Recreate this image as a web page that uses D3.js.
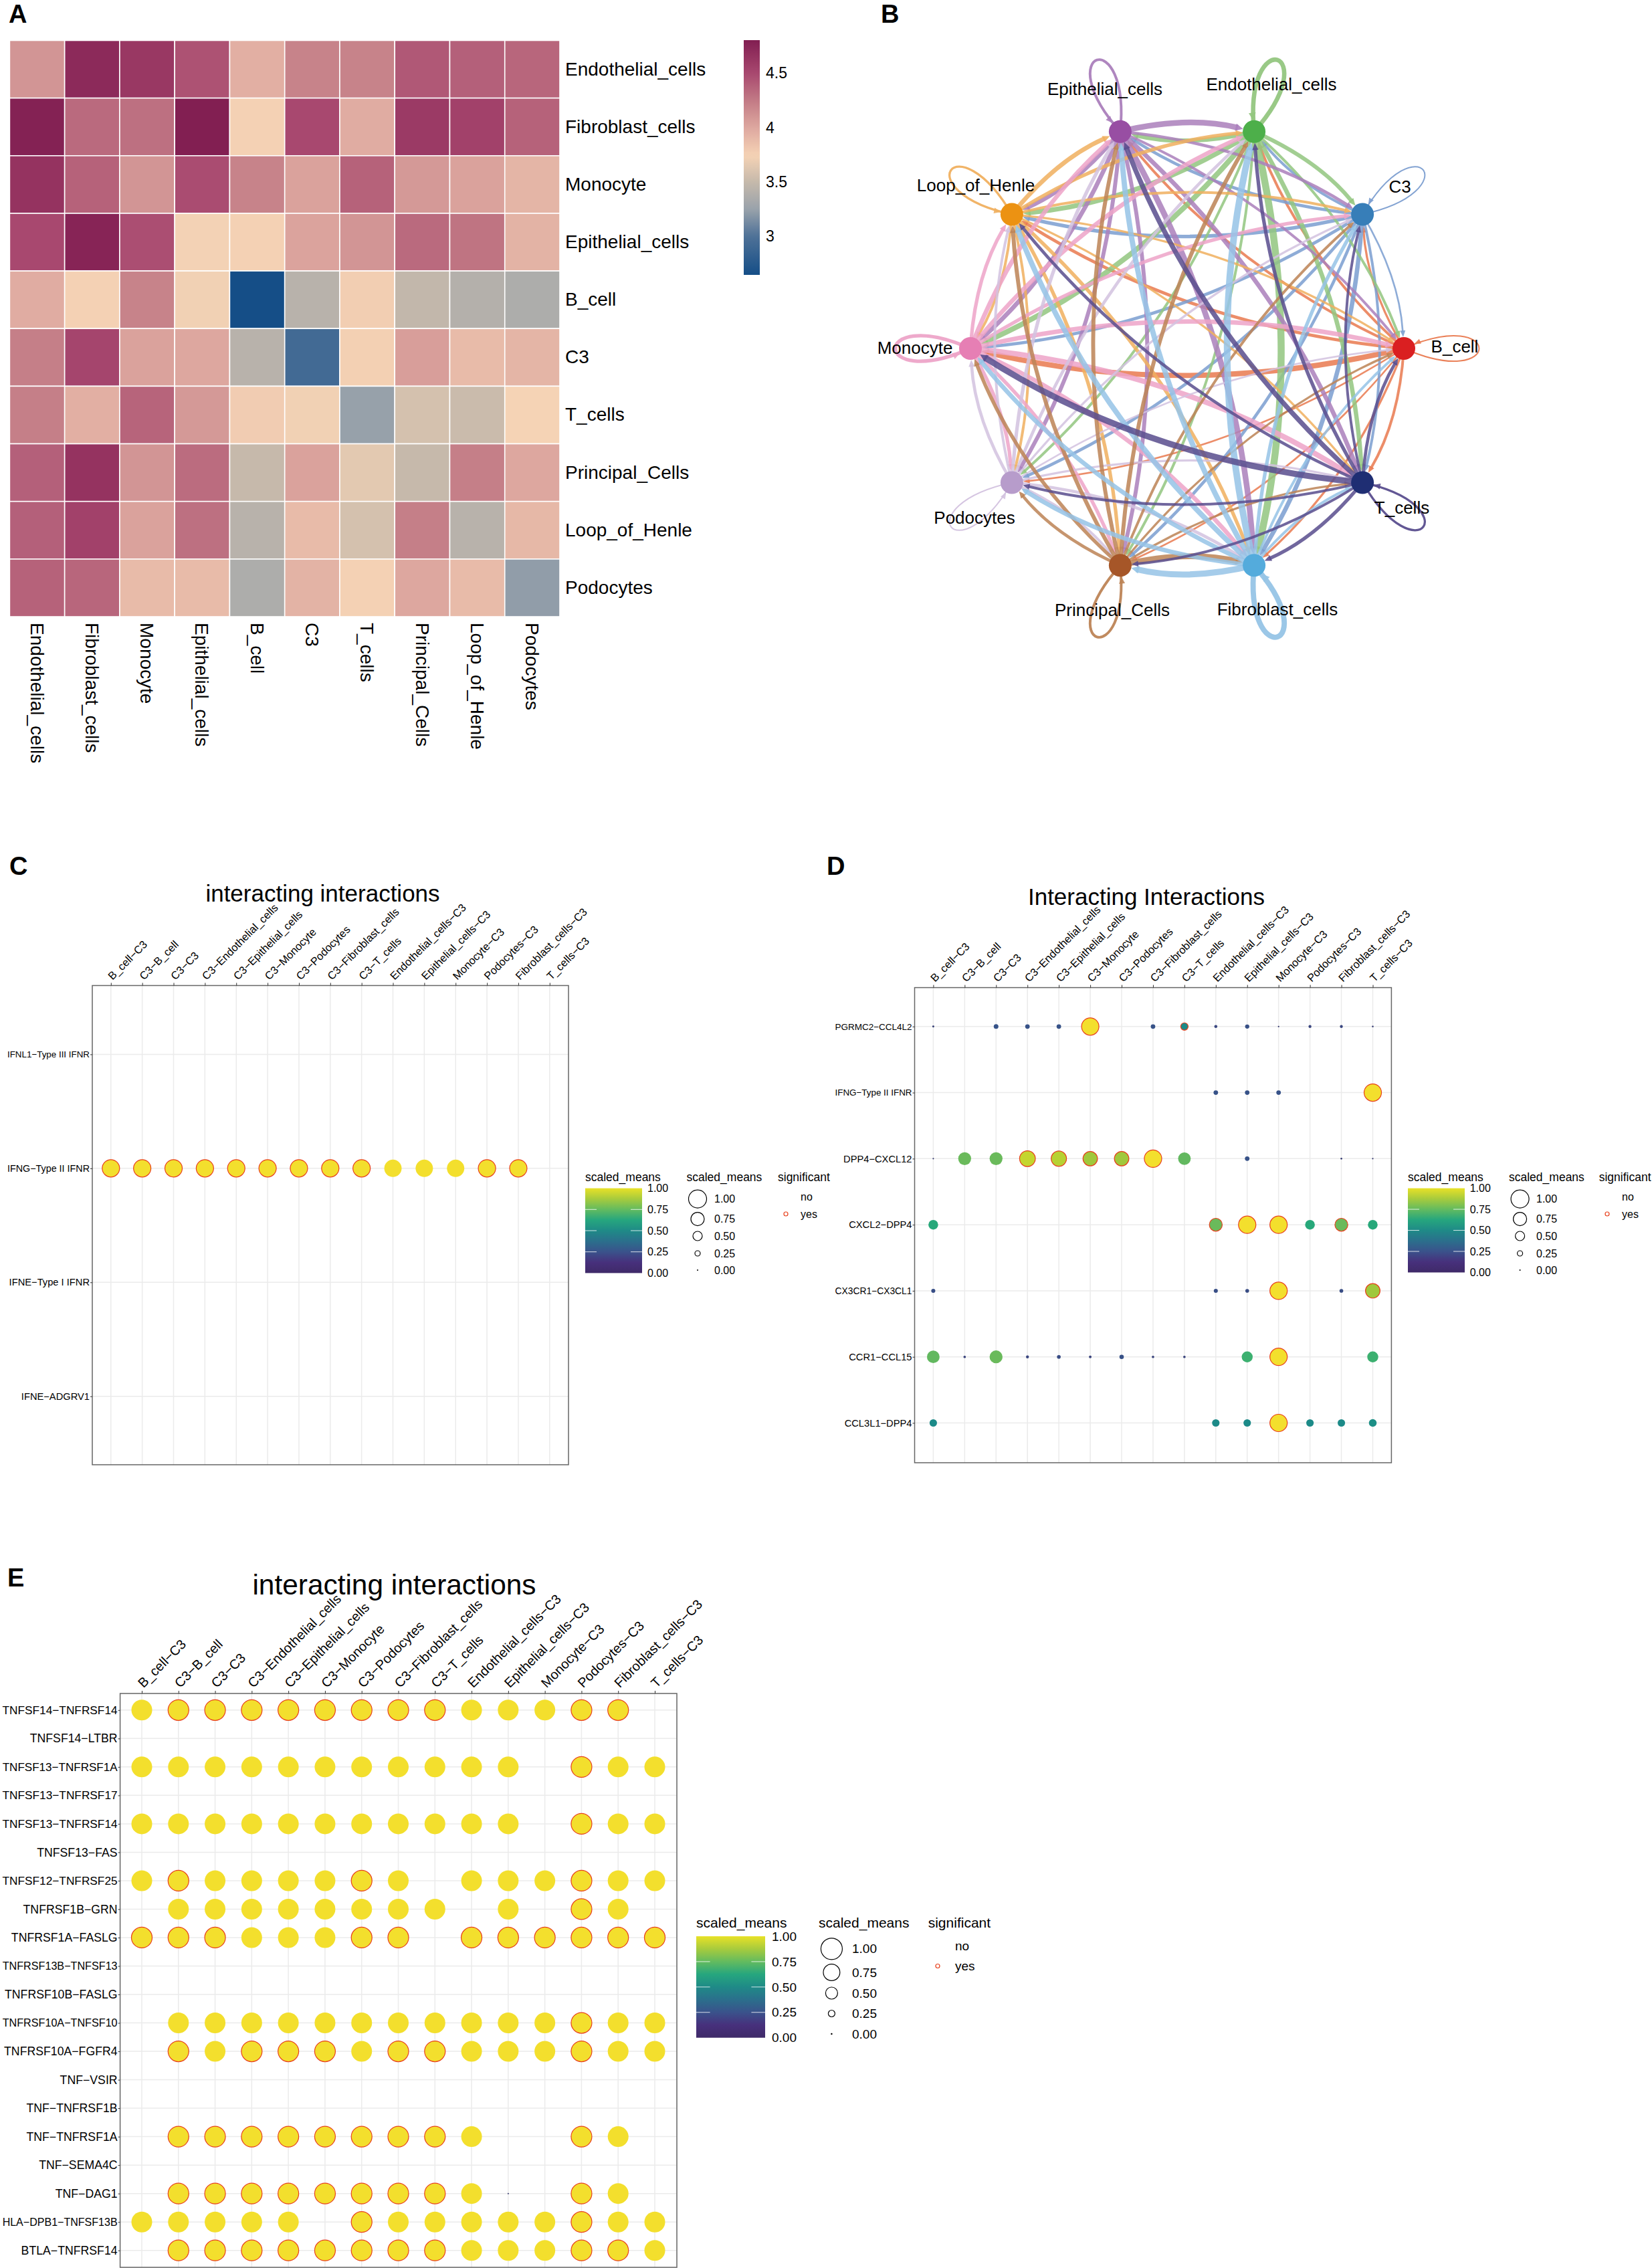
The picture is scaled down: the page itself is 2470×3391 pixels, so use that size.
<!DOCTYPE html>
<html><head><meta charset="utf-8">
<script src="https://cdn.jsdelivr.net/npm/d3@7"></script>
<style>
html,body{margin:0;padding:0;background:#fff}
svg{display:block;font-family:"Liberation Sans",Arial,sans-serif}
text{fill:#000}
</style></head><body><svg id="fig" width="2470" height="3391" viewBox="0 0 2470 3391"></svg>
<script>
// ---------- data ----------
const heatCells = ["Endothelial_cells","Fibroblast_cells","Monocyte","Epithelial_cells","B_cell","C3","T_cells","Principal_Cells","Loop_of_Henle","Podocytes"];
const heatValues = [
 [4.10,4.72,4.62,4.45,3.95,4.20,4.20,4.42,4.38,4.35],
 [4.78,4.33,4.30,4.80,3.75,4.50,3.97,4.60,4.55,4.37],
 [4.65,4.37,4.10,4.48,4.20,4.03,4.37,4.08,4.03,3.92],
 [4.50,4.76,4.47,3.73,3.75,4.02,4.10,4.33,4.28,3.93],
 [3.97,3.75,4.20,3.72,2.64,3.42,3.77,3.48,3.40,3.36],
 [4.22,4.52,4.03,4.00,3.42,2.92,3.76,4.05,3.88,3.92],
 [4.22,3.95,4.36,4.08,3.78,3.72,3.24,3.57,3.52,3.74],
 [4.38,4.65,4.10,4.32,3.50,4.03,3.65,3.50,4.22,4.00],
 [4.38,4.55,4.03,4.30,3.42,3.88,3.57,4.22,3.42,3.90],
 [4.37,4.35,3.88,3.88,3.36,3.93,3.75,4.00,3.88,3.22]];
const heatTicks = [4.5,4,3.5,3];

const netNodes = ["B_cell","C3","Endothelial_cells","Epithelial_cells","Loop_of_Henle","Monocyte","Podocytes","Principal_Cells","Fibroblast_cells","T_cells"];
const netNodeColors = ["#DA1F21","#377EB8","#4DAF4A","#984EA3","#EC9212","#E67FB4","#B79CCB","#A65628","#54ABDC","#1F2E73"];
const netEdgeColors = ["#E97A50","#7C9ED0","#93C680","#AB80BC","#F0B060","#EDA4C8","#D3C2DF","#BD8456","#96C4E6","#5A4E8E"];
// source row -> target column, line thickness; the diagonal holds the self loops
const netWeights = [
 [1.5,2.5,3,3,3.5,6,2,2,2.5,3],
 [2,1.5,3,3.5,4,3.5,3.5,3.5,5,3],
 [3,4.5,5,5,5.5,6,3,3,8,5],
 [3,3.5,6.5,3,5,5,4.5,4.5,6.5,5],
 [2.5,3,4,5,2.5,3,3,4,4,2.5],
 [5,4,5,5,4,4,4,4,5,6],
 [2,2.5,3.5,4,3,3.5,1.5,3,3.5,2.5],
 [2.5,3,4.5,4.5,4.5,4,3.5,3,6.5,2.5],
 [3,4,7.5,6,6,5,5,7,6,3],
 [3.5,3,4,5.5,3.5,7,3,3,4,2.5]];

const pairLabels = ["B_cell−C3","C3−B_cell","C3−C3","C3−Endothelial_cells","C3−Epithelial_cells","C3−Monocyte","C3−Podocytes","C3−Fibroblast_cells","C3−T_cells","Endothelial_cells−C3","Epithelial_cells−C3","Monocyte−C3","Podocytes−C3","Fibroblast_cells−C3","T_cells−C3"];
const _ = null;
const cRows = ["IFNL1−Type III IFNR","IFNG−Type II IFNR","IFNE−Type I IFNR","IFNE−ADGRV1"];
const cValues = [
 [_,_,_,_,_,_,_,_,_,_,_,_,_,_,_],
 [1,1,1,1,1,1,1,1,1,1,1,1,1,1,_],
 [_,_,_,_,_,_,_,_,_,_,_,_,_,_,_],
 [_,_,_,_,_,_,_,_,_,_,_,_,_,_,_]];
const cSignificant = [
 [0,0,0,0,0,0,0,0,0,0,0,0,0,0,0],
 [1,1,1,1,1,1,1,1,1,0,0,0,1,1,0],
 [0,0,0,0,0,0,0,0,0,0,0,0,0,0,0],
 [0,0,0,0,0,0,0,0,0,0,0,0,0,0,0]];

const dRows = ["PGRMC2−CCL4L2","IFNG−Type II IFNR","DPP4−CXCL12","CXCL2−DPP4","CX3CR1−CX3CL1","CCR1−CCL15","CCL3L1−DPP4"];
const dValues = [
 [.04,_,.21,.2,.2,1,_,.2,.38,.11,.18,.01,.1,.1,.02],
 [_,_,_,_,_,_,_,_,_,.2,.2,.2,_,_,1],
 [.005,.72,.72,.9,.87,.82,.82,1,.7,_,.2,_,_,.03,.01],
 [.52,_,_,_,_,_,_,_,_,.72,1,1,.52,.72,.52],
 [.17,_,_,_,_,_,_,_,_,.17,.15,1,_,.15,.82],
 [.7,.07,.72,.1,.15,.08,.19,.07,.07,_,.6,1,_,_,.6],
 [.38,_,_,_,_,_,_,_,_,.38,.38,1,.38,.38,.4]];
const dSignificant = [
 [0,0,0,0,0,1,0,0,1,0,0,0,0,0,0],
 [0,0,0,0,0,0,0,0,0,0,0,0,0,0,1],
 [0,0,0,1,1,1,1,1,0,0,0,0,0,0,0],
 [0,0,0,0,0,0,0,0,0,1,1,1,0,1,0],
 [0,0,0,0,0,0,0,0,0,0,0,1,0,0,1],
 [0,0,0,0,0,0,0,0,0,0,0,1,0,0,0],
 [0,0,0,0,0,0,0,0,0,0,0,1,0,0,0]];

const eRows = ["TNFSF14−TNFRSF14","TNFSF14−LTBR","TNFSF13−TNFRSF1A","TNFSF13−TNFRSF17","TNFSF13−TNFRSF14","TNFSF13−FAS","TNFSF12−TNFRSF25","TNFRSF1B−GRN","TNFRSF1A−FASLG","TNFRSF13B−TNFSF13","TNFRSF10B−FASLG","TNFRSF10A−TNFSF10","TNFRSF10A−FGFR4","TNF−VSIR","TNF−TNFRSF1B","TNF−TNFRSF1A","TNF−SEMA4C","TNF−DAG1","HLA−DPB1−TNFSF13B","BTLA−TNFRSF14"];
const eValues = [
 [1,1,1,1,1,1,1,1,1,1,1,1,1,1,_],
 [_,_,_,_,_,_,_,_,_,_,_,_,_,_,_],
 [1,1,1,1,1,1,1,1,1,1,1,_,1,1,1],
 [_,_,_,_,_,_,_,_,_,_,_,_,_,_,_],
 [1,1,1,1,1,1,1,1,1,1,1,_,1,1,1],
 [_,_,_,_,_,_,_,_,_,_,_,_,_,_,_],
 [1,1,1,1,1,1,1,1,_,1,1,1,1,1,1],
 [_,1,1,1,1,1,1,1,1,_,1,_,1,1,_],
 [1,1,1,1,1,1,1,1,_,1,1,1,1,1,1],
 [_,_,_,_,_,_,_,_,_,_,_,_,_,_,_],
 [_,_,_,_,_,_,_,_,_,_,_,_,_,_,_],
 [_,1,1,1,1,1,1,1,1,1,1,1,1,1,1],
 [_,1,1,1,1,1,1,1,1,1,1,1,1,1,1],
 [_,_,_,_,_,_,_,_,_,_,_,_,_,_,_],
 [_,_,_,_,_,_,_,_,_,_,_,_,_,_,_],
 [_,1,1,1,1,1,1,1,1,1,_,_,1,1,_],
 [_,_,_,_,_,_,_,_,_,_,_,_,_,_,_],
 [_,1,1,1,1,1,1,1,1,1,0,_,1,1,_],
 [1,1,1,1,1,_,1,1,1,1,1,1,1,1,1],
 [_,1,1,1,1,1,1,1,1,1,1,1,1,1,1]];
const eSignificant = [
 [0,1,1,1,1,1,1,1,1,0,0,0,1,1,0],
 [0,0,0,0,0,0,0,0,0,0,0,0,0,0,0],
 [0,0,0,0,0,0,0,0,0,0,0,0,1,0,0],
 [0,0,0,0,0,0,0,0,0,0,0,0,0,0,0],
 [0,0,0,0,0,0,0,0,0,0,0,0,1,0,0],
 [0,0,0,0,0,0,0,0,0,0,0,0,0,0,0],
 [0,1,0,0,0,0,1,0,0,0,0,0,1,0,0],
 [0,0,0,0,0,0,0,0,0,0,0,0,1,0,0],
 [1,1,1,0,0,0,1,1,0,1,1,1,1,1,1],
 [0,0,0,0,0,0,0,0,0,0,0,0,0,0,0],
 [0,0,0,0,0,0,0,0,0,0,0,0,0,0,0],
 [0,0,0,0,0,0,0,0,0,0,0,0,1,0,0],
 [0,1,0,1,1,1,0,1,1,0,0,0,1,0,0],
 [0,0,0,0,0,0,0,0,0,0,0,0,0,0,0],
 [0,0,0,0,0,0,0,0,0,0,0,0,0,0,0],
 [0,1,1,1,1,1,1,1,1,0,0,0,1,0,0],
 [0,0,0,0,0,0,0,0,0,0,0,0,0,0,0],
 [0,1,1,1,1,1,1,1,1,0,0,0,1,0,0],
 [0,0,0,0,0,0,1,0,0,0,0,0,1,0,0],
 [0,1,1,1,1,1,1,1,1,0,0,0,1,1,0]];
const legendTicks = [1,.75,.5,.25,0];

// ---------- drawing ----------
const svg = d3.select("#fig");
const font = "Liberation Sans";
const panelLetters = [["A",13,34],["B",1317,34],["C",14,1308],["D",1236,1308],["E",11,2372]];
svg.selectAll("text.letter").data(panelLetters).join("text").attr("class","letter")
  .attr("x",d=>d[1]).attr("y",d=>d[2]).attr("font-size",38).attr("font-weight","bold").text(d=>d[0]);

// ----- A: heat map -----
const heatColor = d3.scaleLinear()
  .domain([2.64,3.0,3.25,3.5,3.74,4.0,4.25,4.5,4.82])
  .range(["#154e87","#4f7298","#9aa3ab","#c6b9ab","#f5d3b5","#dda79f","#c27a85","#a8486f","#7f1c50"]);
(function(){
  const x = d3.scaleBand().domain(heatCells).range([14.4,837]);
  const y = d3.scaleBand().domain(heatCells).range([60.5,922]);
  const g = svg.append("g");
  heatValues.forEach((row,i)=>{
    g.selectAll(null).data(row).join("rect")
      .attr("x",(d,j)=>x(heatCells[j])).attr("y",y(heatCells[i]))
      .attr("width",x.bandwidth()).attr("height",y.bandwidth())
      .attr("fill",d=>heatColor(d)).attr("stroke","#fff").attr("stroke-width",1.6);
  });
  const ax = svg.append("g").attr("transform","translate(0,922)")
    .call(d3.axisBottom(x).tickSize(0).tickPadding(0));
  ax.select(".domain").remove();
  ax.selectAll("text").attr("font-family",font).attr("font-size",28).attr("fill","#000")
    .attr("text-anchor","start").attr("x",0).attr("y",0).attr("dy",".35em")
    .attr("transform","translate(0,9) rotate(90)");
  const ay = svg.append("g").attr("transform","translate(837,0)")
    .call(d3.axisRight(y).tickSize(0).tickPadding(8));
  ay.select(".domain").remove();
  ay.selectAll("text").attr("font-family",font).attr("font-size",28).attr("fill","#000");
  // colour bar
  const cb = d3.scaleLinear().domain([4.5,3]).range([109.4,352.7]);
  const grad = svg.append("defs").append("linearGradient").attr("id","heatGrad").attr("x1",0).attr("x2",0).attr("y1",0).attr("y2",1);
  const top = cb.invert(60), bottom = cb.invert(411);
  d3.range(0,1.001,.02).forEach(t=>grad.append("stop").attr("offset",t).attr("stop-color",heatColor(top+(bottom-top)*t)));
  svg.append("rect").attr("x",1112).attr("y",60).attr("width",24).attr("height",351).attr("fill","url(#heatGrad)");
  svg.selectAll("text.heatTick").data(heatTicks).join("text").attr("class","heatTick")
    .attr("x",1145).attr("y",d=>cb(d)).attr("dy",".35em").attr("font-size",23).text(d=>d);
})();

// ----- B: circular network -----
(function(){
  const sx = d3.scaleLinear().domain([-1,1]).range([1451,2099]);
  const sy = d3.scaleLinear().domain([-1,1]).range([862,180]);
  const angle = d3.scaleLinear().domain([0,netNodes.length]).range([0,2*Math.PI]);
  const lineWidth = d3.scaleLinear().domain([1.5,8]).range([2,10.5]);
  const pos = netNodes.map((n,i)=>({x:sx(Math.cos(angle(i))),y:sy(Math.sin(angle(i))),a:angle(i)}));
  const nodeR = 17, g = svg.append("g");
  const arrow = (tx,ty,ux,uy,w,color)=>{
    const L = 9+w*.55, H = 3.2+w*.55, bx=tx-ux*L, by=ty-uy*L;
    const p = d3.path();
    p.moveTo(tx,ty); p.lineTo(bx-uy*H,by+ux*H); p.lineTo(bx+uy*H,by-ux*H); p.closePath();
    g.append("path").attr("d",p.toString()).attr("fill",color).attr("opacity",.9);
  };
  netWeights.forEach((row,i)=>row.forEach((w0,j)=>{
    const w=lineWidth(w0), a=pos[i], b=pos[j], color=netEdgeColors[i];
    const p=d3.path();
    if(i===j){
      const ux=Math.cos(a.a), uy=-Math.sin(a.a), L=120, W=66;
      const c1x=a.x+ux*L*1.25-uy*W, c1y=a.y+uy*L*1.25+ux*W;
      const c2x=a.x+ux*L*1.25+uy*W, c2y=a.y+uy*L*1.25-ux*W;
      p.moveTo(a.x,a.y); p.bezierCurveTo(c1x,c1y,c2x,c2y,a.x,a.y);
      g.append("path").attr("d",p.toString()).attr("fill","none").attr("stroke",color).attr("stroke-width",w).attr("opacity",.95);
      const n=Math.hypot(c2x-a.x,c2y-a.y), tx=(a.x-c2x)/n, ty=(a.y-c2y)/n;
      arrow(a.x-tx*nodeR,a.y-ty*nodeR,tx,ty,w*.6,color);
      return;
    }
    const dx=b.x-a.x, dy=b.y-a.y, k=.12;
    const cx=(a.x+b.x)/2+dy*k, cy=(a.y+b.y)/2-dx*k;
    const n=Math.hypot(b.x-cx,b.y-cy), ux=(b.x-cx)/n, uy=(b.y-cy)/n;
    const ex=b.x-ux*(nodeR+8), ey=b.y-uy*(nodeR+8);
    p.moveTo(a.x,a.y); p.quadraticCurveTo(cx,cy,ex,ey);
    g.append("path").attr("d",p.toString()).attr("fill","none").attr("stroke",color).attr("stroke-width",w).attr("opacity",.86);
    arrow(b.x-ux*nodeR,b.y-uy*nodeR,ux,uy,w*.5,color);
  }));
  svg.selectAll("circle.node").data(pos).join("circle").attr("class","node")
    .attr("cx",d=>d.x).attr("cy",d=>d.y).attr("r",nodeR).attr("fill",(d,i)=>netNodeColors[i]);
  const labelAt = [[2175,518],[2093,279],[1901,126],[1652,133],[1459,277],[1368,520],[1457,774],[1663,912],[1910,911],[2096,759]];
  svg.selectAll("text.nodeLabel").data(netNodes).join("text").attr("class","nodeLabel")
    .attr("x",(d,i)=>labelAt[i][0]).attr("y",(d,i)=>labelAt[i][1]).attr("dy",".35em")
    .attr("text-anchor","middle").attr("font-size",26).text(d=>d);
})();

// ----- C, D, E: dot plots -----
const dotFill = d3.scaleLinear()
  .domain([0,.1,.25,.38,.5,.6,.72,.82,.9,1])
  .range(["#34386e","#3a4680","#35588c","#1c8a88","#22a67c","#3cb070","#6aba5b","#a0c83c","#c4d62e","#f3df2d"]);
const barStops = ["#3f2a68","#47307c","#3a528b","#2b6f8c","#1f8a87","#26a67e","#63bb5f","#a7cb3d","#e8e127"];
let gradN = 0;
function dotPanel(o){
  const x = d3.scalePoint().domain(pairLabels).range(o.xRange);
  const y = d3.scalePoint().domain(o.rows).range(o.yRange);
  const [l,r,t,b] = o.frame;
  const g = svg.append("g");
  g.selectAll("line.gv").data(pairLabels).join("line").attr("x1",d=>x(d)).attr("x2",d=>x(d)).attr("y1",t).attr("y2",b).attr("stroke","#ebebeb").attr("stroke-width",1.5);
  g.selectAll("line.gh").data(o.rows).join("line").attr("y1",d=>y(d)).attr("y2",d=>y(d)).attr("x1",l).attr("x2",r).attr("stroke","#ebebeb").attr("stroke-width",1.5);
  const r0 = d3.scaleLinear().domain([0,1]).range([1,o.rMax]);
  o.rows.forEach((rowName,i)=>{
    const pts = o.values[i].map((v,j)=>({v,j,sig:o.sig[i][j]})).filter(d=>d.v!==null);
    g.selectAll(null).data(pts).join("circle")
      .attr("cx",d=>x(pairLabels[d.j])).attr("cy",y(rowName)).attr("r",d=>r0(d.v))
      .attr("fill",d=>dotFill(d.v))
      .attr("stroke",d=>d.sig?"#e8401c":"none").attr("stroke-width",1.2);
  });
  g.append("rect").attr("x",l).attr("y",t).attr("width",r-l).attr("height",b-t).attr("fill","none").attr("stroke","#666").attr("stroke-width",1.5);
  const ax = svg.append("g").attr("transform",`translate(0,${t})`).call(d3.axisTop(x).tickSize(4));
  ax.select(".domain").remove();
  ax.selectAll("line").attr("stroke","#333");
  ax.selectAll("text").attr("font-family",font).attr("font-size",o.xFont).attr("fill","#000")
    .attr("text-anchor","start").attr("x",0).attr("y",0).attr("dy",0)
    .attr("transform",`translate(${o.xShift},-7.5) rotate(-45)`);
  const ay = svg.append("g").attr("transform",`translate(${l},0)`).call(d3.axisLeft(y).tickSize(3).tickPadding(1));
  ay.select(".domain").remove();
  ay.selectAll("line").attr("stroke","#333");
  ay.selectAll("text").attr("font-family",font).attr("font-size",o.yFont).attr("fill","#000")
    .each(function(){ const w=this.getComputedTextLength(); if(w>o.yMaxW) d3.select(this).attr("font-size",o.yFont*o.yMaxW/w); });
  svg.append("text").attr("x",o.title[1]).attr("y",o.title[2]).attr("text-anchor","middle").attr("font-size",o.title[3]).text(o.title[0]);
  // legends
  const L = o.legend, id = "barGrad"+(gradN++);
  const grad = svg.append("defs").append("linearGradient").attr("id",id).attr("x1",0).attr("x2",0).attr("y1",1).attr("y2",0);
  barStops.forEach((c,i)=>grad.append("stop").attr("offset",i/(barStops.length-1)).attr("stop-color",c));
  const barY = d3.scaleLinear().domain([0,1]).range([L.barBottom,L.barTop]);
  svg.append("text").attr("x",L.barX).attr("y",L.titleY).attr("dy",".35em").attr("font-size",L.titleFont).text("scaled_means");
  svg.append("rect").attr("x",L.barX).attr("y",L.barTop).attr("width",L.barW).attr("height",L.barBottom-L.barTop).attr("fill",`url(#${id})`);
  [.25,.5,.75].forEach(v=>{
    [[L.barX,L.barX+L.barW/5],[L.barX+L.barW*4/5,L.barX+L.barW]].forEach(e=>
      svg.append("line").attr("x1",e[0]).attr("x2",e[1]).attr("y1",barY(v)).attr("y2",barY(v)).attr("stroke","#fff").attr("opacity",.8));
  });
  svg.selectAll(null).data(legendTicks).join("text").attr("x",L.barLabelX).attr("y",d=>barY(d)).attr("dy",".35em").attr("font-size",L.tickFont).text(d=>d.toFixed(2));
  svg.append("text").attr("x",L.sizeTitleX).attr("y",L.titleY).attr("dy",".35em").attr("font-size",L.titleFont).text("scaled_means");
  svg.selectAll(null).data(legendTicks).join("circle").attr("cx",L.sizeX).attr("cy",(d,i)=>L.sizeY[i]).attr("r",(d,i)=>L.sizeR[i]).attr("fill",d=>d===0?"#000":"none").attr("stroke","#000").attr("stroke-width",d=>d===0?0:1.2);
  svg.selectAll(null).data(legendTicks).join("text").attr("x",L.sizeLabelX).attr("y",(d,i)=>L.sizeY[i]).attr("dy",".35em").attr("font-size",L.tickFont).text(d=>d.toFixed(2));
  svg.append("text").attr("x",L.sigTitleX).attr("y",L.titleY).attr("dy",".35em").attr("font-size",L.titleFont).text("significant");
  svg.append("text").attr("x",L.sigLabelX).attr("y",L.sigY[0]).attr("dy",".35em").attr("font-size",L.tickFont).text("no");
  svg.append("text").attr("x",L.sigLabelX).attr("y",L.sigY[1]).attr("dy",".35em").attr("font-size",L.tickFont).text("yes");
  svg.append("circle").attr("cx",L.sigX).attr("cy",L.sigY[1]).attr("r",3).attr("fill","none").attr("stroke","#e8401c").attr("stroke-width",1.2);
}
const smallSizeY=[1792.6,1822.6,1848,1874,1899], smallSizeR=[13.5,10,7,4,1];
dotPanel({rows:cRows,values:cValues,sig:cSignificant,xRange:[165.8,821.8],yRange:[1576.4,2087.7],frame:[138,850,1473.5,2190],rMax:13,xFont:16.3,yFont:14.7,yMaxW:123,xShift:2,
  title:["interacting interactions",482.5,1348,35],
  legend:{barX:875,barW:85,barTop:1776.6,barBottom:1903.4,barLabelX:968,titleY:1760,titleFont:17.5,tickFont:16,sizeTitleX:1026.5,sizeX:1043,sizeY:smallSizeY,sizeR:smallSizeR,sizeLabelX:1068,sigTitleX:1163,sigLabelX:1197,sigX:1175,sigY:[1789,1815]}});
dotPanel({rows:dRows,values:dValues,sig:dSignificant,xRange:[1395.4,2052.5],yRange:[1534.8,2127.5],frame:[1367.5,2080.4,1476.6,2187],rMax:13,xFont:16.3,yFont:14.7,yMaxW:115,xShift:2,
  title:["Interacting Interactions",1714,1353,35],
  legend:{barX:2105,barW:85,barTop:1776.6,barBottom:1902.5,barLabelX:2197.7,titleY:1760,titleFont:17.5,tickFont:16,sizeTitleX:2256,sizeX:2272.6,sizeY:smallSizeY,sizeR:smallSizeR,sizeLabelX:2297,sigTitleX:2390.7,sigLabelX:2425,sigX:2403,sigY:[1789,1815]}});
dotPanel({rows:eRows,values:eValues,sig:eSignificant,xRange:[212,979],yRange:[2556.8,3364.7],frame:[179.6,1012,2532,3390],rMax:15.5,xFont:20,yFont:17.7,yMaxW:172,xShift:2,
  title:["interacting interactions",589.5,2383.5,42.4],
  legend:{barX:1041,barW:103,barTop:2895,barBottom:3046.7,barLabelX:1154,titleY:2875,titleFont:21,tickFont:19,sizeTitleX:1224,sizeX:1243.4,sizeY:[2913.8,2949,2980,3010.5,3041],sizeR:[16,12.4,9,5,1.2],sizeLabelX:1274,sigTitleX:1387.7,sigLabelX:1428,sigX:1402,sigY:[2909,2939.5]}});
</script></body></html>
